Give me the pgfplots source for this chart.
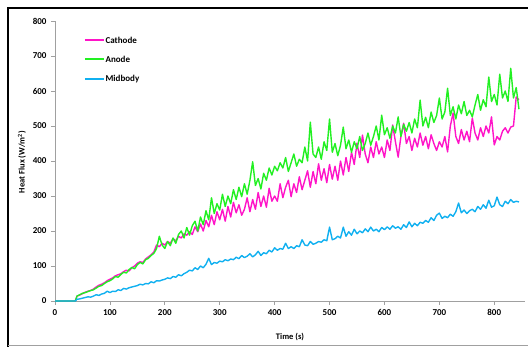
\documentclass[border=0pt]{standalone}
\usepackage{pgfplots}
\usepackage{pgfplotstable}
\pgfplotsset{compat=1.18}
\usepackage{fontspec}
\setmainfont{Carlito}
\definecolor{cath}{HTML}{FF14C8}
\definecolor{anod}{HTML}{22F022}
\definecolor{midb}{HTML}{10B0F0}
\definecolor{axgray}{HTML}{A0A0A0}

\pgfplotstableread{
t A C M
0 0 0 0
37 0 0 0
40 14 14 5
45 18 17 6
50 22 21 8
55 24 25 10
60 27 28 12
65 30 30 11
70 32 34 14
75 37 40 18
80 42 45 16
85 44 48 20
90 50 52 22
95 55 58 28
100 58 62 24
105 63 66 28
110 70 72 27
115 68 75 32
120 76 78 30
125 82 84 36
130 80 88 34
135 90 86 38
140 96 95 40
145 92 100 42
150 104 108 44
155 110 112 48
160 106 110 46
165 118 120 50
170 122 126 49
175 130 132 55
180 136 140 52
185 150 160 58
190 185 155 57
195 160 165 60
200 150 160 62
205 170 170 66
210 158 165 64
215 180 178 70
220 165 172 68
225 190 185 75
230 200 180 72
235 180 192 78
240 210 188 82
245 188 198 88
250 215 190 86
255 228 212 95
260 200 198 90
265 240 220 100
270 218 200 95
275 258 230 105
280 232 212 122
285 295 245 104
290 250 218 110
295 278 255 108
300 260 232 114
305 305 262 112
310 270 228 118
315 300 270 115
320 278 240 120
325 318 282 118
330 290 252 125
335 325 275 121
340 298 245 130
345 335 262 124
350 305 295 128
355 345 255 135
360 398 290 126
365 330 262 132
370 350 310 142
375 320 270 130
380 365 300 138
385 345 268 135
390 380 322 145
395 360 285 140
400 385 300 152
405 372 285 145
410 395 335 150
415 380 295 148
420 410 325 165
425 370 345 150
430 395 298 155
435 420 335 150
440 385 310 158
445 405 355 155
450 395 318 175
455 440 345 160
460 400 372 158
465 511 325 170
470 420 370 162
475 410 335 165
480 440 392 170
485 405 345 168
490 455 378 175
495 430 338 172
500 520 390 211
505 425 348 175
510 450 385 178
515 415 345 185
520 445 400 180
525 497 360 211
530 435 410 185
535 460 370 198
540 425 425 188
545 455 390 205
550 435 451 192
555 470 410 200
560 430 474 195
565 450 420 206
570 480 395 198
575 445 440 211
580 470 410 200
585 500 455 205
590 460 420 198
595 531 440 210
600 475 410 204
605 495 460 212
610 465 430 205
615 500 503 215
620 480 455 208
625 526 411 212
630 470 470 205
635 505 508 218
640 485 450 210
645 510 470 226
650 480 430 212
655 520 465 222
660 495 440 215
665 574 480 225
670 500 445 222
675 525 470 230
680 495 435 225
685 540 475 238
690 510 450 230
695 530 430 245
700 580 455 251
705 520 440 236
710 540 470 242
715 608 426 238
720 530 500 248
725 555 537 242
730 520 470 255
735 560 450 280
740 535 490 252
745 570 460 260
750 530 485 250
755 545 455 258
760 526 523 262
765 560 480 255
770 590 460 270
775 545 495 262
780 575 470 275
785 555 500 265
790 640 480 288
795 570 526 268
800 590 446 272
805 560 470 297
810 648 460 275
815 580 485 270
820 600 495 285
825 570 480 278
830 665 497 290
835 580 500 282
840 610 583 285
845 548 575 283
}\data

\begin{document}
\begin{tikzpicture}
\useasboundingbox (0pt,-347pt) rectangle (528pt,0pt);
% frame
\draw[line width=2pt,black] (8pt,-347pt) -- (8pt,-8.5pt) -- (560pt,-8.5pt);
\draw[line width=0.8pt,axgray] (8pt,-345pt) -- (560pt,-345pt);
\begin{axis}[
  at={(55pt,-301pt)}, anchor=south west,
  scale only axis,
  width=470pt, height=280pt,
  xmin=0, xmax=856, ymin=0, ymax=800,
  axis x line*=bottom, axis y line*=left,
  axis line style={axgray, line width=0.8pt},
  xtick={0,100,...,800}, ytick={0,100,...,800},
  tick align=outside, major tick length=4pt,
  tick style={axgray, line width=0.8pt},
  /pgf/number format/assume math mode=true,
  ticklabel style={font=\bfseries\fontsize{9}{10}\selectfont},
  xticklabel style={yshift=-1pt},
  yticklabel style={xshift=-1pt},
  clip=false,
]
\addplot[draw=cath, line width=1.4pt, line join=round] table[x=t, y=C] {\data};
\addplot[draw=anod, line width=1.4pt, line join=round] table[x=t, y=A] {\data};
\addplot[draw=midb, line width=1.4pt, line join=round] table[x=t, y=M] {\data};
% legend keys
\addplot[forget plot, draw=cath, line width=1.4pt] coordinates {(54.6,745.7) (89.3,745.7)};
\addplot[forget plot, draw=anod, line width=1.4pt] coordinates {(54.6,691.4) (89.3,691.4)};
\addplot[forget plot, draw=midb, line width=1.4pt] coordinates {(54.6,634.3) (89.3,634.3)};
\node[anchor=west, inner sep=1pt, font=\bfseries\fontsize{9}{10}\selectfont] at (axis cs:90,745.7) {Cathode};
\node[anchor=west, inner sep=1pt, font=\bfseries\fontsize{9}{10}\selectfont] at (axis cs:90,691.4) {Anode};
\node[anchor=west, inner sep=1pt, font=\bfseries\fontsize{9}{10}\selectfont] at (axis cs:90,634.3) {Midbody};
\end{axis}
\node[rotate=90, font=\bfseries\fontsize{8.5}{10}\selectfont] at (22pt,-162pt) {Heat Flux (W/m\textsuperscript{2})};
\node[font=\bfseries\fontsize{8.5}{10}\selectfont] at (290pt,-337pt) {Time (s)};
\end{tikzpicture}
\end{document}
